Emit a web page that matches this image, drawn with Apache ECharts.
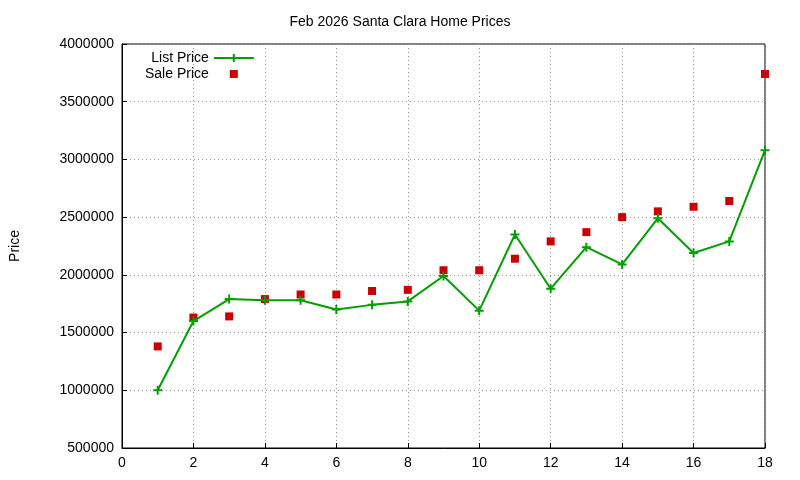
<!DOCTYPE html>
<html><head><meta charset="utf-8">
<script src="https://cdn.jsdelivr.net/npm/echarts@6/dist/echarts.min.js"></script>
<style>html,body{margin:0;background:#fff}#c{width:800px;height:480px}</style>
</head><body><div id="c"></div>
<script>
const xs = [1,2,3,4,5,6,7,8,9,10,11,12,13,14,15,16,17,18];
const listPrice = [1000000,1600000,1790000,1780000,1780000,1700000,1740000,1770000,1990000,1690000,2350000,1880000,2240000,2090000,2490000,2190000,2290000,3080000];
const salePrice = [1380000,1630000,1640000,1790000,1830000,1830000,1860000,1870000,2040000,2040000,2140000,2290000,2370000,2500000,2550000,2590000,2640000,3740000];
const chart = echarts.init(document.getElementById('c'));
const axisCommon = {
  axisLine:{show:true,onZero:false,lineStyle:{color:'#000'}},
  axisTick:{show:true,inside:true,lineStyle:{color:'#000'}},
  axisLabel:{color:'#000',fontSize:14,fontFamily:'Liberation Sans',formatter:v=>String(v)},
  splitLine:{show:true,lineStyle:{color:'#999',type:[1,3]}}
};
chart.setOption({
  animation:false,
  title:{text:'Feb 2026 Santa Clara Home Prices',left:'center',top:10,textStyle:{fontSize:14,fontWeight:'normal',color:'#000',fontFamily:'Liberation Sans'}},
  legend:{orient:'vertical',left:140,top:46,align:'right',itemGap:2,itemWidth:40,itemHeight:10,
    textStyle:{fontSize:14,color:'#000',fontFamily:'Liberation Sans'},
    data:[{name:'List Price'},{name:'Sale Price',icon:'path://M0,0h0.1v0.1h-0.1z M39.9,9.9h0.1v0.1h-0.1z M16,1h8v8h-8z'}]},
  grid:{left:120,right:35,top:44,bottom:32,show:true,borderColor:'#000',borderWidth:1},
  xAxis:Object.assign({type:'value',min:0,max:18,interval:2},axisCommon),
  yAxis:Object.assign({type:'value',min:500000,max:4000000,interval:500000,name:'Price',nameLocation:'middle',nameGap:100,nameTextStyle:{fontSize:14,color:'#000',fontFamily:'Liberation Sans'}},axisCommon),
  series:[
    {name:'List Price',type:'line',data:xs.map((x,i)=>[x,listPrice[i]]),symbol:'path://M-1,0H1M0,-1V1',symbolSize:9,
      lineStyle:{color:'#00a000',width:2},itemStyle:{color:'#00a000',borderColor:'#00a000',borderWidth:2}},
    {name:'Sale Price',type:'scatter',data:xs.map((x,i)=>[x,salePrice[i]]),symbol:'rect',symbolSize:8,itemStyle:{color:'#cc0000',opacity:1}}
  ]
});
</script></body></html>
